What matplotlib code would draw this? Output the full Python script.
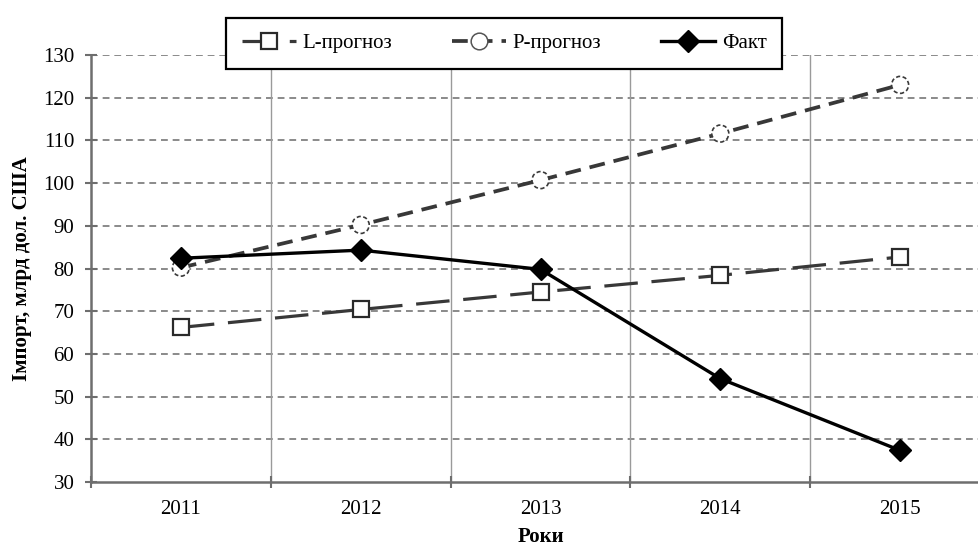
import matplotlib
matplotlib.use("Agg")
import matplotlib.pyplot as plt
from matplotlib.lines import Line2D

years = ["2011", "2012", "2013", "2014", "2015"]
l_forecast = [66.2, 70.4, 74.5, 78.4, 82.7]
p_forecast = [80.2, 90.2, 100.7, 111.6, 123.0]
fact = [82.4, 84.3, 79.8, 54.2, 37.4]

plt.rcParams['font.family'] = ['Liberation Serif', 'DejaVu Serif']

fig = plt.figure(figsize=(9.79, 5.49), dpi=100)
ax = fig.add_axes([91/979, 67/549, 899/979, 427/549])

x = list(range(len(years)))
dark = '#383838'

l_line, = ax.plot(x, l_forecast, color=dark, lw=2.3, dashes=(10.5, 4.3), dash_capstyle='butt',
                  marker='s', ms=11, mfc='white', mec='#2a2a2a', mew=1.6, zorder=3)
p_line, = ax.plot(x, p_forecast, color=dark, lw=2.7, dashes=(4.2, 2.4), dash_capstyle='butt',
                  zorder=3)
p_pts = ax.scatter(x, p_forecast, s=150, facecolors='white', edgecolors='#3a3a3a',
                   linewidths=1.2, linestyles=(0, (2.5, 1.5)), zorder=3.5)
f_line, = ax.plot(x, fact, color='black', lw=2.4, marker='D', ms=11, mfc='black', mec='black',
                  zorder=4)

p_proxy = Line2D([], [], color=dark, lw=2.7, dashes=(4.2, 2.4), dash_capstyle='butt',
                 marker='o', ms=12, mfc='white', mec='#555555', mew=1.1)

ax.set_xlim(-0.5, len(years) - 0.5)
ax.set_ylim(30, 130)
ax.set_yticks(range(30, 131, 10))
ax.set_xticks(x)
ax.set_xticklabels(years)
ax.set_xticks([i + 0.5 for i in range(-1, len(years))], minor=True)

for yv in range(40, 131, 10):
    ax.axhline(yv, color='#8a8a8a', lw=1.4, dashes=(3.5, 2.5), zorder=1)
for xv in [i + 0.5 for i in range(len(years) - 1)]:
    ax.axvline(xv, color='#9a9a9a', lw=1.0, zorder=1)

for s in ['top', 'right']:
    ax.spines[s].set_visible(False)
for s in ['left', 'bottom']:
    ax.spines[s].set_color('#6e6e6e')
    ax.spines[s].set_linewidth(1.8)

ax.tick_params(axis='y', which='major', length=8, width=1.5, color='#6e6e6e', direction='inout',
               labelsize=15, pad=8)
ax.tick_params(axis='x', which='major', length=0, labelsize=15, pad=13)
ax.tick_params(axis='x', which='minor', length=8, width=1.5, color='#6e6e6e', direction='inout')

ax.set_ylabel('Імпорт, млрд дол. США', fontsize=15, fontweight='bold', labelpad=8)
ax.set_xlabel('Роки', fontsize=15, fontweight='bold', labelpad=6)

leg = fig.legend([l_line, p_proxy, f_line], ['L-прогноз', 'P-прогноз', 'Факт'],
                 loc='center', bbox_to_anchor=(504/979, 1 - 43.5/549), ncol=3,
                 fontsize=15, frameon=True, fancybox=False, edgecolor='black',
                 facecolor='white', framealpha=1,
                 handlelength=2.6, columnspacing=2.9, handletextpad=0.3,
                 borderpad=0.75, borderaxespad=0)
leg.get_frame().set_linewidth(1.6)
leg.set_zorder(10)

fig.savefig('out.png', dpi=100)
